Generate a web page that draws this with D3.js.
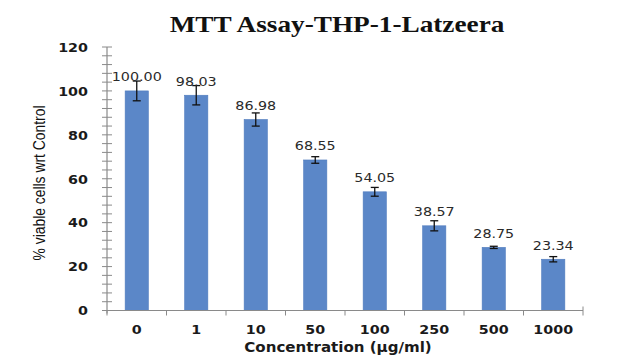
<!DOCTYPE html>
<html><head><meta charset="utf-8">
<script src="https://cdn.jsdelivr.net/npm/d3@7"></script>
<style>
html,body{margin:0;padding:0;background:#fff;}
svg{display:block;}
</style></head>
<body>
<svg id="chart" width="640" height="359"></svg>
<script>
const categories = ["0","1","10","50","100","250","500","1000"];
const values = [100.00, 98.03, 86.98, 68.55, 54.05, 38.57, 28.75, 23.34];
const errors = [4.5, 4.4, 3.0, 1.5, 2.0, 2.3, 0.5, 1.2];
const yTicks = [0,20,40,60,80,100,120];
const titleText = "MTT Assay-THP-1-Latzeera";
const xTitle = "Concentration (\u00b5g/ml)";
const yTitle = "% viable cells  wrt Control";

const svg = d3.select("#chart");
const pLeft = 107, pRight = 583, pTop = 47, pBottom = 310.5;
const x = d3.scaleBand().domain(categories).range([pLeft, pRight]).paddingInner(0.61).paddingOuter(0.305);
const xb = d3.scaleBand().domain(categories).range([pLeft, pRight]);
const y = d3.scaleLinear().domain([0,120]).range([pBottom, pTop]);
const SX = 1.1;
const axisCol = "#8a8a8a";

// title
svg.append("text")
  .attr("transform", `translate(337,31.5) scale(1.16,1)`)
  .attr("text-anchor","middle")
  .style("font-family","'Liberation Serif', 'Times New Roman', serif")
  .style("font-weight","bold").style("font-size","23.5px").attr("fill","#111")
  .text(titleText);

// y axis minor ticks
const minor = d3.range(0, 121, 4);
svg.append("g").selectAll("line").data(minor).join("line")
  .attr("x1", pLeft-5).attr("x2", pLeft+5)
  .attr("y1", d=>y(d)).attr("y2", d=>y(d))
  .attr("stroke", axisCol).attr("stroke-width",1);
svg.append("line").attr("x1",pLeft).attr("x2",pLeft).attr("y1",y(120)).attr("y2",pBottom+3)
  .attr("stroke",axisCol).attr("stroke-width",1.2);

// y tick labels
svg.append("g").selectAll("text").data(yTicks).join("text")
  .attr("transform", d=>`translate(88,${y(d)+4.8}) scale(${SX},1)`)
  .attr("text-anchor","end")
  .style("font-family","'DejaVu Sans', Verdana, sans-serif").style("font-weight","bold")
  .style("font-size","13px").attr("fill","#1a1a1a")
  .text(d=>d);

// bars
svg.append("g").selectAll("rect").data(values).join("rect")
  .attr("x",(d,i)=>x(categories[i])).attr("width",x.bandwidth())
  .attr("y",d=>y(d)).attr("height",d=>pBottom-y(d))
  .attr("fill","#5b87c8").attr("stroke","#4f7bbd").attr("stroke-width",0.6);

// x axis
svg.append("line").attr("x1",pLeft).attr("x2",pRight).attr("y1",pBottom).attr("y2",pBottom)
  .attr("stroke",axisCol).attr("stroke-width",1.2);
const bounds = categories.map(c=>xb(c)).concat([pRight]);
svg.append("g").selectAll("line").data(bounds).join("line")
  .attr("x1",d=>d).attr("x2",d=>d).attr("y1",(d,i)=> i===bounds.length-1? pBottom-4: pBottom).attr("y2",pBottom+5)
  .attr("stroke",axisCol).attr("stroke-width",1);

// error bars
const eg = svg.append("g").attr("stroke","#111").attr("stroke-width",1.3);
values.forEach((v,i)=>{
  const cx = x(categories[i]) + x.bandwidth()/2;
  const y1 = y(v+errors[i]), y2 = y(v-errors[i]);
  eg.append("line").attr("x1",cx).attr("x2",cx).attr("y1",y1).attr("y2",y2);
  eg.append("line").attr("x1",cx-4).attr("x2",cx+4).attr("y1",y1).attr("y2",y1);
  eg.append("line").attr("x1",cx-4).attr("x2",cx+4).attr("y1",y2).attr("y2",y2);
});

// data labels
svg.append("g").selectAll("text").data(values).join("text")
  .attr("transform",(d,i)=>`translate(${x(categories[i])+x.bandwidth()/2},${y(d)-9.5}) scale(${SX},1)`)
  .attr("text-anchor","middle")
  .style("font-family","'DejaVu Sans', Verdana, sans-serif")
  .style("font-size","13px").attr("fill","#2a2a2a")
  .text(d=>d.toFixed(2));

// x tick labels
svg.append("g").selectAll("text").data(categories).join("text")
  .attr("transform",d=>`translate(${xb(d)+xb.bandwidth()/2},334) scale(${SX},1)`)
  .attr("text-anchor","middle")
  .style("font-family","'DejaVu Sans', Verdana, sans-serif").style("font-weight","bold")
  .style("font-size","13px").attr("fill","#1a1a1a")
  .text(d=>d);

// x title
svg.append("text")
  .attr("transform",`translate(338,351.5) scale(${SX},1)`)
  .attr("text-anchor","middle")
  .style("font-family","'DejaVu Sans', Verdana, sans-serif").style("font-weight","bold")
  .style("font-size","13.7px").attr("fill","#1a1a1a")
  .text(xTitle);

// y title
svg.append("text")
  .attr("transform","translate(45,183) rotate(-90)")
  .attr("text-anchor","middle")
  .attr("textLength",155).attr("lengthAdjust","spacingAndGlyphs")
  .style("font-family","'Liberation Sans', Arial, sans-serif")
  .style("font-size","16px").attr("fill","#111")
  .text(yTitle);
</script>
</body></html>
